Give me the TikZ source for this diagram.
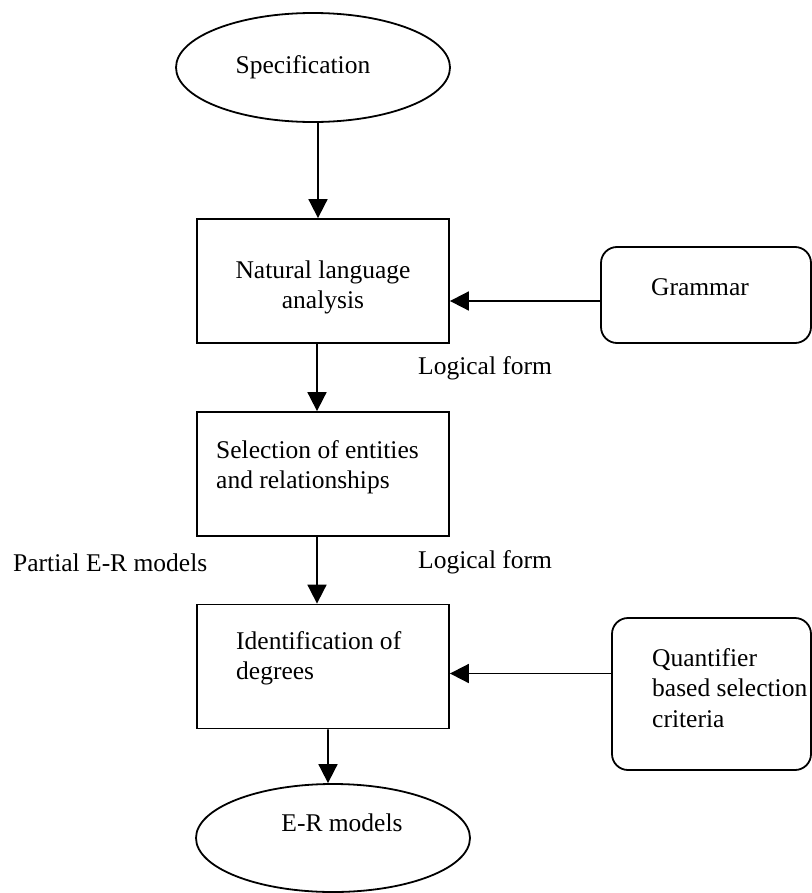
\documentclass[tikz,border=0pt]{standalone}
\usepackage{fontspec}
\setmainfont{Liberation Serif}
\usetikzlibrary{shapes.geometric,arrows.meta}
\begin{document}
\begin{tikzpicture}[x=1bp,y=-1bp,
  every node/.style={font=\fontsize{25.6}{30.5}\selectfont},
  arr/.style={line width=1.8bp,-{Triangle[length=19bp,width=19bp]}},
  oval/.style={ellipse,draw,line width=1.8bp,inner sep=0,minimum width=274bp,minimum height=109bp},
  procbox/.style={rectangle,draw,line width=1.8bp,minimum width=252bp,minimum height=124bp,inner sep=0},
  srcbox/.style={rectangle,rounded corners=16bp,draw,line width=1.8bp,inner sep=0},
  lbl/.style={inner sep=0,align=left}]
\useasboundingbox (0,0) rectangle (812,893);
% shapes
\node[oval] (spec) at (313,67.5) {};
\node[procbox] (nla) at (323,281) {};
\node[procbox] (sel) at (323,474) {};
\node[procbox] (deg) at (323,666.5) {};
\node[srcbox,minimum width=210bp,minimum height=96bp] (gram) at (706,295) {};
\node[srcbox,minimum width=199bp,minimum height=152bp] (quant) at (711.5,694) {};
\node[oval,minimum height=108bp] (er) at (333,838) {};
% texts
\node[lbl] (spect) at (303,67) {Specification};
\node[lbl,align=center] (nlat) at (323,287.5) {Natural language\\analysis};
\node[lbl,anchor=west] (selt) at (216,467) {Selection of entities\\and relationships};
\node[lbl,anchor=west] (degt) at (236,658) {Identification of\\degrees};
\node[lbl] (gramt) at (700,287) {Grammar};
\node[lbl,anchor=west] (quantt) at (652,688) {Quantifier\\based selection\\criteria};
\node[lbl] (ert) at (342,823) {E-R models};
\node[lbl,anchor=west] (lf1) at (418,368) {Logical form};
\node[lbl,anchor=west] (lf2) at (418,562) {Logical form};
\node[lbl,anchor=west] (pem) at (13,563) {Partial E-R models};
% connectors
\draw[arr] ([xshift=5bp]spec.south) -- ([xshift=-5bp]nla.north);
\draw[arr] ([xshift=-6bp]nla.south) -- ([xshift=-6bp]sel.north);
\draw[arr] ([xshift=-6bp]sel.south) -- ([xshift=-6bp]deg.north);
\draw[arr] ([xshift=5bp]deg.south) -- ([xshift=-5bp]er.north);
\coordinate (g1) at ([yshift=-6bp]gram.west);
\draw[arr] (g1) -- (g1 -| nla.east);
\coordinate (q1) at ([yshift=20.5bp]quant.west);
\draw[arr] (q1) -- (q1 -| deg.east);
\end{tikzpicture}
\end{document}
